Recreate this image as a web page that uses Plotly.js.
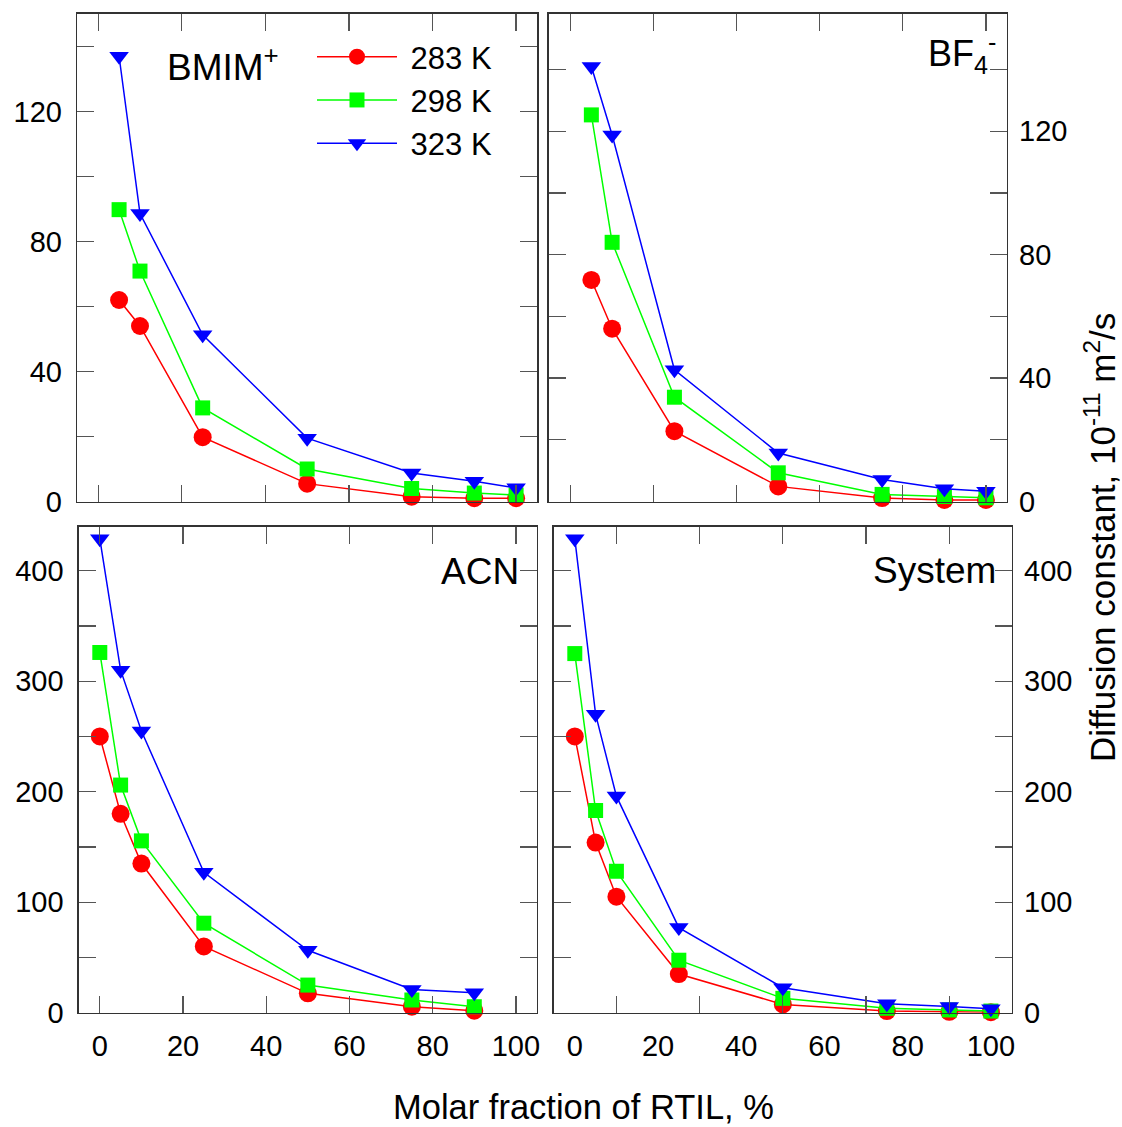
<!DOCTYPE html>
<html>
<head>
<meta charset="utf-8">
<script src="https://cdn.plot.ly/plotly-3.0.1.min.js"></script>
<style>html,body{margin:0;padding:0;background:#fff;}#chart{width:1122px;height:1127px;}</style>
</head>
<body>
<div id="chart"></div>
<script>
// ---- data ----
var xIons = [5, 10, 25, 50, 75, 90, 100];
var xACN  = [0, 5, 10, 25, 50, 75, 90];
var xSys  = [0, 5, 10, 25, 50, 75, 90, 100];

var bmim283 = [62, 54, 19.8, 5.5, 1.5, 1.0, 1.0];
var bmim298 = [89.8, 70.9, 28.8, 10, 4, 2.6, 2];
var bmim323 = [137, 88.6, 51.3, 19.5, 8.8, 6.2, 4.2];

var bf283 = [71.8, 56, 22.8, 4.9, 1.1, 0.5, 0.5];
var bf298 = [125.3, 84, 33.8, 9.3, 2.3, 1.6, 1.2];
var bf323 = [141, 118.8, 42.7, 15.7, 7.1, 4.1, 3.3];

var acn283 = [250, 180, 135, 60, 17.5, 5.4, 1.8];
var acn298 = [326, 206, 155.5, 81, 25, 11.5, 5.4];
var acn323 = [429, 310, 255, 127, 56.5, 21, 18];

var sys283 = [250, 154, 105, 35, 7.5, 1.5, 0.8, 0.5];
var sys298 = [325, 183, 128, 47.5, 13, 4, 2.5, 1.5];
var sys323 = [429, 270, 196, 77, 22.6, 8, 5.5, 3.5];

var temps = ['283 K', '298 K', '323 K'];

var xTicks = [0, 20, 40, 60, 80, 100];
var xTickText = ['0', '20', '40', '60', '80', '100'];
var xOddTicks = [10, 30, 50, 70, 90];
var yTopTicks = [0, 20, 40, 60, 80, 100, 120, 140];
var yTopText = ['0', '', '40', '', '80', '', '120', ''];
var yBotTicks = [0, 50, 100, 150, 200, 250, 300, 350, 400];
var yBotText = ['0', '', '100', '', '200', '', '300', '', '400'];

// ---- styling ----
var FONT = 'Liberation Sans, Arial, sans-serif';
var colors = ['#ff0000', '#00ff00', '#0000ff'];
var symbols = ['circle', 'square', 'triangle-down'];
var sizes = [18, 15, 17];

function mk(x, y, i, xa, ya, showLeg) {
  return {
    x: x, y: y, type: 'scatter', mode: 'lines+markers',
    name: '\u00a0' + temps[i], legendgroup: temps[i], showlegend: !!showLeg,
    xaxis: xa, yaxis: ya,
    line: {color: colors[i], width: 1.5},
    marker: {color: colors[i], symbol: symbols[i], size: sizes[i], line: {width: 0}},
    cliponaxis: false,
    hoverinfo: 'x+y'
  };
}

var data = [
  mk(xIons, bmim283, 0, 'x', 'y', true),
  mk(xIons, bmim298, 1, 'x', 'y', true),
  mk(xIons, bmim323, 2, 'x', 'y', true),
  mk(xIons, bf283, 0, 'x2', 'y2'),
  mk(xIons, bf298, 1, 'x2', 'y2'),
  mk(xIons, bf323, 2, 'x2', 'y2'),
  mk(xACN, acn283, 0, 'x3', 'y3'),
  mk(xACN, acn298, 1, 'x3', 'y3'),
  mk(xACN, acn323, 2, 'x3', 'y3'),
  mk(xSys, sys283, 0, 'x4', 'y4'),
  mk(xSys, sys298, 1, 'x4', 'y4'),
  mk(xSys, sys323, 2, 'x4', 'y4')
];

var axBase = {
  showline: true, linecolor: '#333333', linewidth: 1.6, mirror: 'ticks',
  ticks: 'inside', ticklen: 17, tickwidth: 1.2, tickcolor: '#555555',
  showgrid: false, zeroline: false, tickmode: 'array',
  tickfont: {family: FONT, size: 29, color: '#000'}
};
function ax(extra) { return Object.assign({}, axBase, extra); }

var W = 1122, H = 1127;
function px(a, b) { return [a / W, b / W]; }
function py(top, bottom) { return [1 - bottom / H, 1 - top / H]; }

var layout = {
  width: W, height: H,
  margin: {l: 0, r: 0, t: 0, b: 0},
  paper_bgcolor: '#fff', plot_bgcolor: '#fff',
  font: {family: FONT, color: '#000'},
  showlegend: true,
  legend: {
    x: 312 / W, xanchor: 'left', y: 1 - 30 / H, yanchor: 'top',
    bgcolor: 'rgba(0,0,0,0)', borderwidth: 0,
    font: {family: FONT, size: 31, color: '#000'},
    itemwidth: 80, tracegroupgap: 0
  },
  xaxis: ax({domain: px(77.3, 537), anchor: 'y', range: [-5, 105], tickvals: xTicks, ticktext: xTickText, showticklabels: false}),
  yaxis: ax({domain: py(14, 501.5), anchor: 'x', range: [0, 150], tickvals: yTopTicks, ticktext: yTopText, ticklabelstandoff: 8}),
  xaxis2: ax({domain: px(549, 1006.7), anchor: 'y2', range: [-5.2, 105], tickvals: xTicks, ticktext: xTickText, showticklabels: false}),
  yaxis2: ax({domain: py(14, 501.5), anchor: 'x2', range: [0, 158], side: 'right', tickvals: yTopTicks, ticktext: yTopText, ticklabelstandoff: 5}),
  xaxis3: ax({domain: px(79, 536.7), anchor: 'y3', range: [-5, 105], tickvals: xTicks, ticktext: xTickText, ticklabelstandoff: 7}),
  yaxis3: ax({domain: py(526.5, 1012.7), anchor: 'x3', range: [0, 440], tickvals: yBotTicks, ticktext: yBotText, ticklabelstandoff: 8}),
  xaxis4: ax({domain: px(554, 1011.7), anchor: 'y4', range: [-5, 105], tickvals: xTicks, ticktext: xTickText, ticklen: 0, ticklabelstandoff: 7,
              minor: {tickmode: 'array', tickvals: xOddTicks, ticks: 'inside', ticklen: 17, tickwidth: 1.2, tickcolor: '#555555'}}),
  yaxis4: ax({domain: py(526.5, 1012.7), anchor: 'x4', range: [0, 440], side: 'right', tickvals: yBotTicks, ticktext: yBotText, ticklabelstandoff: 5}),
  annotations: [
    {text: 'BMIM<sup>+</sup>', xref: 'paper', yref: 'paper', x: 165 / W, y: 1 - 64 / H, xanchor: 'left', yanchor: 'middle', showarrow: false, font: {family: FONT, size: 37, color: '#000'}},
    {text: 'BF<sub>4</sub><sup>-</sup>', xref: 'paper', yref: 'paper', x: 998 / W, y: 1 - 54 / H, xanchor: 'right', yanchor: 'middle', showarrow: false, font: {family: FONT, size: 36, color: '#000'}},
    {text: 'ACN', xref: 'paper', yref: 'paper', x: 521 / W, y: 1 - 571 / H, xanchor: 'right', yanchor: 'middle', showarrow: false, font: {family: FONT, size: 37, color: '#000'}},
    {text: 'System', xref: 'paper', yref: 'paper', x: 998 / W, y: 1 - 570 / H, xanchor: 'right', yanchor: 'middle', showarrow: false, font: {family: FONT, size: 37, color: '#000'}},
    {text: 'Molar fraction of RTIL, %', xref: 'paper', yref: 'paper', x: 583 / W, y: 1 - 1107 / H, xanchor: 'center', yanchor: 'middle', showarrow: false, font: {family: FONT, size: 34.5, color: '#000'}},
    {text: 'Diffusion constant, 10<sup>-11</sup> m<sup>2</sup>/s', xref: 'paper', yref: 'paper', x: 1100 / W, y: 1 - 538 / H, xanchor: 'center', yanchor: 'middle', textangle: -90, showarrow: false, font: {family: FONT, size: 35, color: '#000'}}
  ]
};

Plotly.newPlot('chart', data, layout, {staticPlot: true, displayModeBar: false});
</script>
</body>
</html>
